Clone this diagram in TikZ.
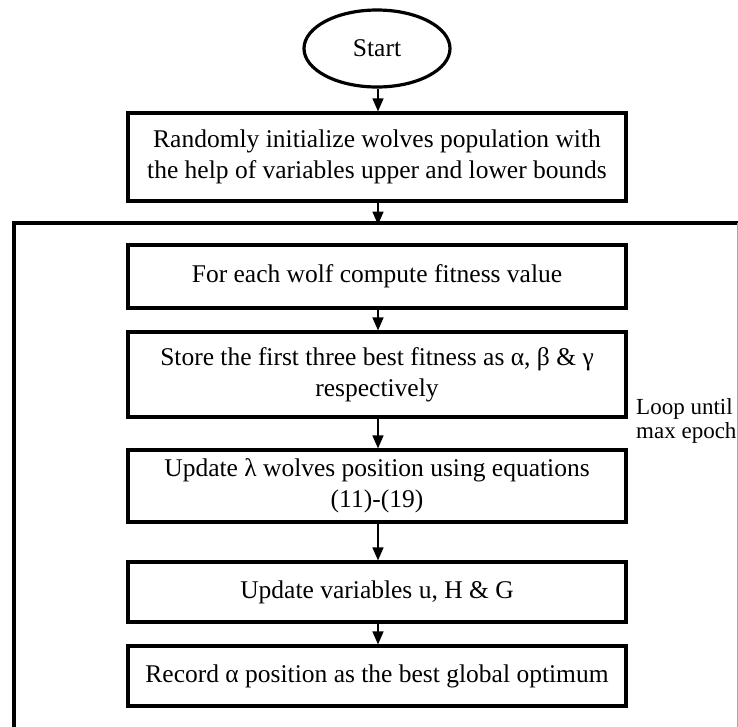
\documentclass[tikz,border=0pt]{standalone}
\usepackage{fontspec}
\setmainfont{Liberation Serif}
\usetikzlibrary{shapes.geometric,arrows.meta}
\begin{document}
\begin{tikzpicture}[x=1pt,y=-1pt,
  boxtext/.style={font=\fontsize{25.5}{31}\selectfont},
  procbox/.style={draw,line width=3.2pt,rectangle,minimum width=498pt,inner sep=0pt,align=center,boxtext},
  flowarrow/.style={line width=1.5pt,-{Triangle[length=13pt,width=11pt]}}]
\useasboundingbox (0,0) rectangle (738,726);
\node[draw,ellipse,line width=3.2pt,minimum width=146pt,minimum height=77pt,inner sep=0pt,boxtext] (start) at (377,48.5) {Start};
\node[procbox,minimum height=88pt] (init) at (377,157) {Randomly initialize wolves population with\\the help of variables upper and lower bounds};
\coordinate (ftop) at (378,223);
\node[procbox,minimum height=63pt] (fit) at (377,276.5) {For each wolf compute fitness value};
\node[procbox,minimum height=85pt] (store) at (377,374.5) {Store the first three best fitness as α, β \& γ\\respectively};
\node[procbox,minimum height=72pt] (upd) at (377,486) {Update λ wolves position using equations\\(11)-(19)};
\node[procbox,minimum height=60pt] (vars) at (377,592) {Update variables u, H \& G};
\node[procbox,minimum height=60pt] (rec) at (377,676) {Record α position as the best global optimum};
\node[anchor=west,align=left,inner sep=0pt,font=\fontsize{23}{23.5}\selectfont] (loop) at (636,421) {Loop until\\max epoch};
% frame
\draw[line width=3.2pt] (14,727) -- (14,223) -- (739,223);
\draw[gray!70,line width=0.8pt] (737,223) -- (737,727);
% arrows
\draw[flowarrow] (start.south -| ftop) -- (init.north -| ftop);
\draw[flowarrow] (init.south -| ftop) -- ([yshift=-1.6pt]ftop);
\draw[flowarrow] (fit.south -| ftop) -- (store.north -| ftop);
\draw[flowarrow] (store.south -| ftop) -- (upd.north -| ftop);
\draw[flowarrow] (upd.south -| ftop) -- (vars.north -| ftop);
\draw[flowarrow] (vars.south -| ftop) -- (rec.north -| ftop);
\end{tikzpicture}
\end{document}
